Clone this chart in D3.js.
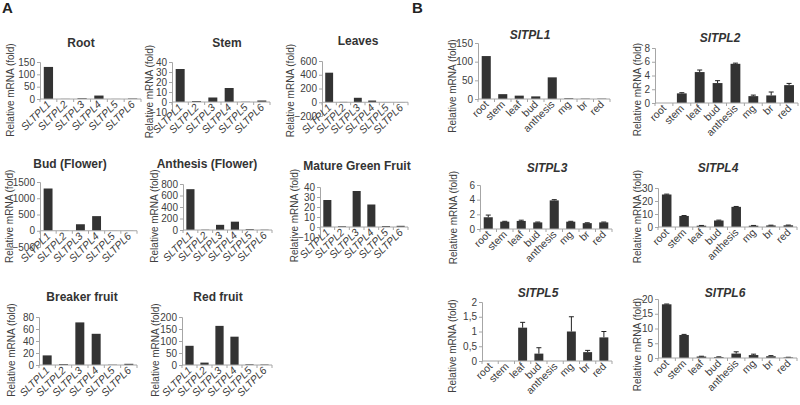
<!DOCTYPE html>
<html><head><meta charset="utf-8">
<script src="https://cdn.jsdelivr.net/npm/d3@7"></script>
<style>
body{margin:0;background:#fff;}
svg{display:block;font-family:"Liberation Sans",Arial,sans-serif;}
</style></head>
<body><svg id="c" width="800" height="405"></svg>
<script>
// ---------- DATA ----------
const genesA = ["SLTPL1","SLTPL2","SLTPL3","SLTPL4","SLTPL5","SLTPL6"];
const tissuesB = ["root","stem","leaf","bud","anthesis","mg","br","red"];

const titlesA = ["Root","Stem","Leaves","Bud (Flower)","Anthesis (Flower)","Mature Green Fruit","Breaker fruit","Red fruit"];
const rootVals      = [130, 0.5, 3, 14, 0.3, 2];
const stemVals      = [33, 1, 4.5, 14, 0.2, 1.5];
const leavesVals    = [430, 5, 65, 25, 2, 3];
const budVals       = [1300, 10, 200, 450, 3, 5];
const anthesisVals  = [710, 5, 90, 145, 15, 5];
const mgVals        = [27, 0.8, 36, 22.5, 1, 1.2];
const breakerVals   = [16, 1.5, 71, 52, 0.5, 2];
const redVals       = [80, 10, 163, 118, 3, 2];

const rootTicks     = [0, 50, 100, 150];
const stemTicks     = [-10, 0, 10, 20, 30, 40];
const leavesTicks   = [-200, 0, 200, 400, 600];
const budTicks      = [-500, 0, 500, 1000, 1500];
const anthesisTicks = [0, 200, 400, 600, 800];
const mgTicks       = [-10, 0, 10, 20, 30, 40];
const breakerTicks  = [0, 20, 40, 60, 80];
const redTicks      = [0, 50, 100, 150, 200];

const titlesB = ["SlTPL1","SlTPL2","SlTPL3","SlTPL4","SlTPL5","SlTPL6"];
const tpl1Vals = [115, 13, 9, 7, 58, 2, 1, 1];
const tpl1Err  = [0, 0, 0, 0, 0, 0, 0, 0];
const tpl2Vals = [0, 1.4, 4.5, 2.9, 5.7, 1.0, 1.1, 2.6];
const tpl2Err  = [0, 0.1, 0.3, 0.35, 0.1, 0.15, 0.5, 0.25];
const tpl3Vals = [1.6, 1.0, 1.1, 0.9, 3.9, 1.0, 0.8, 0.9];
const tpl3Err  = [0.3, 0.05, 0.1, 0.05, 0.1, 0.05, 0.05, 0.05];
const tpl4Vals = [25, 8.5, 1, 5, 15.5, 1, 1.2, 1.3];
const tpl4Err  = [0.3, 0.3, 0.2, 0.3, 0.3, 0.2, 0.2, 0.2];
const tpl5Vals = [0, 0, 1.13, 0.25, 0, 1.0, 0.3, 0.8];
const tpl5Err  = [0, 0, 0.18, 0.2, 0, 0.5, 0.06, 0.2];
const tpl6Vals = [18.2, 7.8, 0.5, 0.3, 1.5, 1.0, 0.6, 0.2];
const tpl6Err  = [0.1, 0.2, 0.1, 0.1, 0.6, 0.3, 0.2, 0.05];

const tpl1Ticks = [0, 50, 100, 150];
const tpl2Ticks = [0, 2, 4, 6, 8];
const tpl3Ticks = [0, 2, 4, 6];
const tpl4Ticks = [0, 10, 20, 30];
const tpl5Ticks = [0, 0.5, 1, 1.5, 2];
const tpl6Ticks = [0, 5, 10, 15, 20];

const yLabel = "Relative mRNA (fold)";

// ---------- LAYOUT (positions only) ----------
// x0,x1: plot left/right ; yT,yB: pixel of top/bottom tick ; tx,ty: title centre ; lx: y-label centre x
const layoutA = [
  {x0:40,  x1:141, yT:62,  yB:99,  tx:81,  ty:43,  lx:10},
  {x0:172, x1:270, yT:62,  yB:112, tx:227, ty:43,  lx:149},
  {x0:322, x1:408, yT:61,  yB:116, tx:358, ty:41,  lx:290},
  {x0:40,  x1:137, yT:182, yB:247, tx:70,  ty:164, lx:9},
  {x0:183, x1:272, yT:184, yB:230, tx:207, ty:164, lx:154},
  {x0:320, x1:408, yT:187, yB:237, tx:357, ty:166, lx:294},
  {x0:39,  x1:137, yT:317, yB:365, tx:82,  ty:297, lx:11},
  {x0:182, x1:272, yT:317, yB:365, tx:218, ty:297, lx:155}
];
const layoutB = [
  {x0:478, x1:610, yT:43,  yB:99,  tx:530, ty:35,  lx:452},
  {x0:655, x1:798, yT:48,  yB:103, tx:720, ty:38,  lx:637},
  {x0:480, x1:612, yT:185, yB:229, tx:547, ty:168, lx:453},
  {x0:658, x1:797, yT:188, yB:227, tx:718, ty:168, lx:637},
  {x0:482, x1:612, yT:302, yB:361, tx:538, ty:293, lx:452},
  {x0:658, x1:797, yT:299, yB:358, tx:725, ty:293, lx:637}
];

const BAR = "#333333", AXIS = "#a6a6a6", TXT = "#404040";

const svg = d3.select("#c");

function panel(L, title, italicTitle, cats, vals, errs, ticks, fmt, italicCats) {
  const g = svg.append("g");
  const x = d3.scaleBand().domain(cats).range([L.x0, L.x1]).paddingInner(0.45).paddingOuter(0.225);
  const xb = d3.scaleBand().domain(cats).range([L.x0, L.x1]);
  const y = d3.scaleLinear().domain([d3.min(ticks), d3.max(ticks)]).range([L.yB, L.yT]);
  const data = cats.map((c, i) => ({c, v: vals[i], e: errs ? errs[i] : 0}));

  // y axis
  const ya = g.append("g").attr("transform", `translate(${L.x0},0)`)
    .call(d3.axisLeft(y).tickValues(ticks).tickSize(3).tickPadding(2).tickFormat(fmt));
  ya.select(".domain").attr("stroke", AXIS);
  ya.selectAll(".tick line").attr("stroke", AXIS);
  ya.selectAll(".tick text").attr("fill", TXT).style("font-size", "10px");

  // bars
  g.selectAll("rect.bar").data(data).join("rect").attr("class", "bar")
    .attr("x", d => x(d.c)).attr("width", x.bandwidth())
    .attr("y", d => y(Math.max(0, d.v))).attr("height", d => Math.abs(y(d.v) - y(0)))
    .attr("fill", BAR);

  // error bars
  const eb = data.filter(d => d.e > 0);
  g.selectAll("line.err").data(eb).join("line").attr("class", "err")
    .attr("x1", d => x(d.c) + x.bandwidth() / 2).attr("x2", d => x(d.c) + x.bandwidth() / 2)
    .attr("y1", d => y(d.v)).attr("y2", d => y(d.v + d.e)).attr("stroke", "#222").attr("stroke-width", 1);
  g.selectAll("line.cap").data(eb).join("line").attr("class", "cap")
    .attr("x1", d => x(d.c) + x.bandwidth() / 2 - 2.5).attr("x2", d => x(d.c) + x.bandwidth() / 2 + 2.5)
    .attr("y1", d => y(d.v + d.e)).attr("y2", d => y(d.v + d.e)).attr("stroke", "#222").attr("stroke-width", 1);

  // x axis at zero with boundary ticks
  const y0 = y(0);
  g.append("line").attr("x1", L.x0).attr("x2", L.x1).attr("y1", y0).attr("y2", y0).attr("stroke", AXIS);
  const bounds = cats.map(c => xb(c)).concat([L.x1]);
  g.selectAll("line.xt").data(bounds).join("line").attr("class", "xt")
    .attr("x1", d => d).attr("x2", d => d).attr("y1", y0).attr("y2", y0 + 3).attr("stroke", AXIS);
  g.selectAll("text.xl").data(cats).join("text").attr("class", "xl")
    .attr("transform", c => `translate(${xb(c) + xb.bandwidth() / 2 + 3},${y0 + 6}) rotate(-45)`)
    .attr("text-anchor", "end").attr("fill", TXT).style("font-size", "10.5px")
    .style("font-style", italicCats ? "italic" : "normal").text(c => c);

  // title
  g.append("text").attr("x", L.tx).attr("y", L.ty + 4).attr("text-anchor", "middle")
    .attr("fill", "#333").style("font-size", "12px").style("font-weight", "bold")
    .style("font-style", italicTitle ? "italic" : "normal").text(title);

  // y label
  const ly = (L.ty + y0 + 38) / 2;
  g.append("text").attr("transform", `translate(${L.lx},${ly}) rotate(-90)`)
    .attr("dy", "0.35em")
    .attr("text-anchor", "middle").attr("fill", TXT).style("font-size", "10px").text(yLabel);
}

const fmtInt = d3.format("d");
const fmtComma = d => String(d).replace(".", ",");

const valsA = [rootVals, stemVals, leavesVals, budVals, anthesisVals, mgVals, breakerVals, redVals];
const ticksA = [rootTicks, stemTicks, leavesTicks, budTicks, anthesisTicks, mgTicks, breakerTicks, redTicks];
valsA.forEach((v, i) => panel(layoutA[i], titlesA[i], false, genesA, v, null, ticksA[i], fmtInt, true));

const valsB = [tpl1Vals, tpl2Vals, tpl3Vals, tpl4Vals, tpl5Vals, tpl6Vals];
const errsB = [tpl1Err, tpl2Err, tpl3Err, tpl4Err, tpl5Err, tpl6Err];
const ticksB = [tpl1Ticks, tpl2Ticks, tpl3Ticks, tpl4Ticks, tpl5Ticks, tpl6Ticks];
valsB.forEach((v, i) => panel(layoutB[i], titlesB[i], true, tissuesB, v, errsB[i], ticksB[i], i === 4 ? fmtComma : fmtInt, false));

// panel letters
svg.append("text").attr("x", 2).attr("y", 13).style("font-size", "15px").style("font-weight", "bold").attr("fill", "#222").text("A");
svg.append("text").attr("x", 412).attr("y", 13).style("font-size", "15px").style("font-weight", "bold").attr("fill", "#222").text("B");
</script></body></html>
